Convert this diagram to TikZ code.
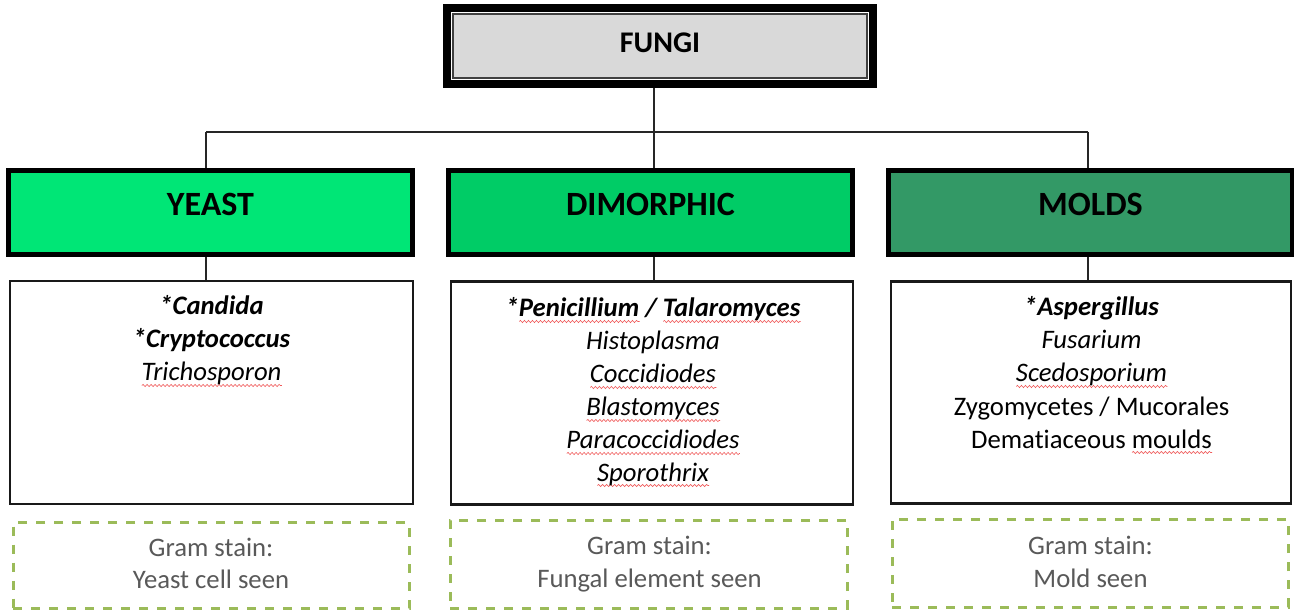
\documentclass[tikz,border=0pt]{standalone}
\usepackage{fontspec}
\setmainfont{Carlito}[Ligatures=NoCommon]
\usetikzlibrary{decorations.pathmorphing}
\definecolor{yeastg}{RGB}{0,230,118}
\definecolor{dimog}{RGB}{0,204,102}
\definecolor{moldg}{RGB}{51,153,102}
\definecolor{dashg}{RGB}{155,187,89}
\definecolor{fungigray}{RGB}{217,217,217}
\definecolor{gramtxt}{RGB}{89,89,89}
\definecolor{sqred}{RGB}{240,90,90}
\newsavebox\sqbox
\newlength\sqlen
\newcommand\sq[1]{\sbox\sqbox{#1}\setlength\sqlen{\wd\sqbox}\makebox[0pt][l]{\tikz[baseline=0pt]\draw[sqred, line width=0.6pt, decorate, decoration={snake, segment length=4pt, amplitude=1.1pt}] (0pt,-4.5pt) -- (\sqlen,-4.5pt);}\usebox\sqbox}
\begin{document}
\begin{tikzpicture}[x=1pt,y=-1pt,
  conn/.style={line width=1.4pt, draw=black!85},
  catbox/.style={draw=black, line width=5pt, minimum width=404pt, minimum height=84pt, inner sep=0pt, font=\fontsize{34}{40}\selectfont\bfseries, text height=22pt, text depth=15pt},
  listbox/.style={draw=black!90, line width=2.2pt, minimum width=403pt, minimum height=223pt, inner sep=0pt},
  gramboxst/.style={draw=dashg, line width=3pt, dash pattern=on 9pt off 9pt, minimum width=396pt, minimum height=86pt, inner sep=0pt},
  listtxt/.style={anchor=base, inner sep=0pt, font=\fontsize{26.7}{33}\selectfont},
  gramtxtst/.style={listtxt, text=gramtxt}]
\useasboundingbox (0,0) rectangle (1294,612);
\fill[white] (0,0) rectangle (1294,612);

% top
\node[draw=black, line width=8pt, fill=white, minimum width=426pt, minimum height=76pt, inner sep=0pt] (fungiouter) at (660,46) {};
\node[draw=black!75, line width=1.5pt, fill=fungigray, minimum width=414pt, minimum height=64pt, inner sep=0pt, font=\fontsize{30}{36}\selectfont\bfseries, text height=20pt, text depth=6pt] (fungi) at (660,46) {FUNGI};

% categories
\node[catbox, fill=yeastg] (yeast) at (210.5,212.5) {YEAST};
\node[catbox, fill=dimog] (dimo) at (650.5,212.5) {DIMORPHIC};
\node[catbox, fill=moldg] (molds) at (1090.5,212.5) {MOLDS};

% lists
\node[listbox] (ylist) at (211.5,392.5) {};
\node[listbox, minimum width=402pt] (dlist) at (652,393) {};
\node[listbox, minimum width=400pt, minimum height=222pt] (mlist) at (1091,392.5) {};

% gram boxes
\node[gramboxst] (ygram) at (211,565.5) {};
\node[gramboxst, minimum width=397pt, minimum height=88pt] (dgram) at (648.5,564) {};
\node[gramboxst, minimum height=88pt] (mgram) at (1090,563) {};

% connectors
\coordinate (ya) at (206,132);
\coordinate (da) at (654,132);
\coordinate (ma) at (1088,132);
\draw[conn] (ya) -- (ma);
\draw[conn] (fungiouter.south -| da) -- (da);
\draw[conn] (ya) -- (ya |- yeast.north);
\draw[conn] (da) -- (da |- dimo.north);
\draw[conn] (ma) -- (ma |- molds.north);
\draw[conn] (yeast.south -| ya) -- (ya |- ylist.north);
\draw[conn] (dimo.south -| da) -- (da |- dlist.north);
\draw[conn] (molds.south -| ma) -- (ma |- mlist.north);

% yeast text
\node[listtxt] (y1) at (211.5,315) {\textbf{\textit{*Candida}}};
\node[listtxt] (y2) at (211.5,348) {\textbf{\textit{*Cryptococcus}}};
\node[listtxt] (y3) at (211.5,381) {\textit{\sq{Trichosporon}}};

% dimorphic text
\node[listtxt] (d1) at (653,317) {\textbf{\textit{*\sq{Penicillium} / \sq{Talaromyces}}}};
\node[listtxt] (d2) at (653,350) {\textit{Histoplasma}};
\node[listtxt] (d3) at (653,383) {\textit{\sq{Coccidiodes}}};
\node[listtxt] (d4) at (653,416) {\textit{\sq{Blastomyces}}};
\node[listtxt] (d5) at (653,449) {\textit{\sq{Paracoccidiodes}}};
\node[listtxt] (d6) at (653,481) {\textit{\sq{Sporothrix}}};

% molds text
\node[listtxt] (m1) at (1091.5,316) {\textbf{\textit{*Aspergillus}}};
\node[listtxt] (m2) at (1091.5,349) {\textit{Fusarium}};
\node[listtxt] (m3) at (1091.5,382) {\textit{\sq{Scedosporium}}};
\node[listtxt] (m4) at (1091.5,415) {Zygomycetes / Mucorales};
\node[listtxt] (m5) at (1091.5,448) {Dematiaceous \sq{moulds}};

% gram text
\node[gramtxtst] (yg1) at (211,556) {Gram stain:};
\node[gramtxtst] (yg2) at (211,588) {Yeast cell seen};
\node[gramtxtst] (dg1) at (649.5,554) {Gram stain:};
\node[gramtxtst] (dg2) at (649.5,587) {Fungal element seen};
\node[gramtxtst] (mg1) at (1090.5,554) {Gram stain:};
\node[gramtxtst] (mg2) at (1090.5,587) {Mold seen};
\end{tikzpicture}
\end{document}
